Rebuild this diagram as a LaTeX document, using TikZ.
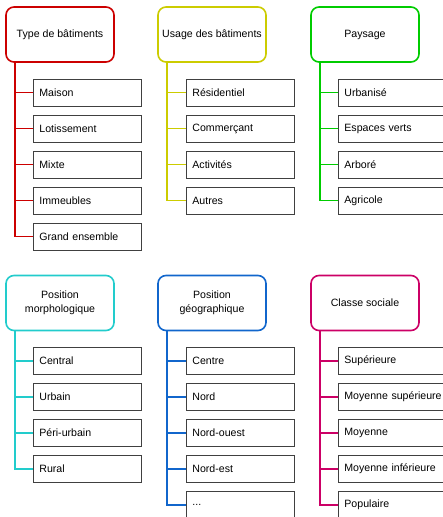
\documentclass[tikz,border=0pt]{standalone}
\usepackage{fontspec}
\setmainfont{Liberation Sans}
\usepackage{xcolor}
\usetikzlibrary{positioning}

\definecolor{rouge}{HTML}{CC0000}
\definecolor{jaune}{HTML}{CCCC00}
\definecolor{vert}{HTML}{00CC00}
\definecolor{cyan}{HTML}{22CCCC}
\definecolor{bleu}{HTML}{1166CC}
\definecolor{magenta}{HTML}{CC0066}

\begin{document}
\begin{tikzpicture}[x=1pt,y=-1pt,
	font=\fontsize{10.6}{13.5}\selectfont,
	header/.style={draw=#1, line width=1.6pt, rounded corners=8pt, fill=white,
		minimum width=108pt, minimum height=55pt, align=center, inner sep=2pt},
	item/.style={draw=black!75, line width=0.8pt, fill=white, anchor=west,
		minimum width=108pt, minimum height=27pt, text width=96pt, inner xsep=6pt},
	branch/.style={draw=#1, line width=1.6pt}]

	\useasboundingbox[fill=white] (0,0) rectangle (443,517);

	% Type de batiments
	\node[header=rouge] (type) at (60,34.5) {Type de bâtiments};
	\node[item] (maison) at (33,92.5) {Maison};
	\node[item] (lotis) at (33,128.5) {Lotissement};
	\node[item] (mixte) at (33,164.5) {Mixte};
	\node[item] (immeubles) at (33,200.5) {Immeubles};
	\node[item] (grand) at (33,236.5) {Grand ensemble};
	\draw[branch=rouge] ([xshift=9.5pt]type.south west) |- (maison.west);
	\draw[branch=rouge] ([xshift=9.5pt]type.south west) |- (lotis.west);
	\draw[branch=rouge] ([xshift=9.5pt]type.south west) |- (mixte.west);
	\draw[branch=rouge] ([xshift=9.5pt]type.south west) |- (immeubles.west);
	\draw[branch=rouge] ([xshift=9.5pt]type.south west) |- (grand.west);

	% Usage des batiments
	\node[header=jaune] (usage) at (212,34.5) {Usage des bâtiments};
	\node[item] (resid) at (186,92.5) {Résidentiel};
	\node[item] (commerce) at (186,128.5) {Commerçant};
	\node[item] (activ) at (186,164.5) {Activités};
	\node[item] (autres) at (186,200.5) {Autres};
	\draw[branch=jaune] ([xshift=9.5pt]usage.south west) |- (resid.west);
	\draw[branch=jaune] ([xshift=9.5pt]usage.south west) |- (commerce.west);
	\draw[branch=jaune] ([xshift=9.5pt]usage.south west) |- (activ.west);
	\draw[branch=jaune] ([xshift=9.5pt]usage.south west) |- (autres.west);

	% Paysage
	\node[header=vert] (paysage) at (365,34.5) {Paysage};
	\node[item] (urbanise) at (338,92.5) {Urbanisé};
	\node[item] (espaces) at (338,128.5) {Espaces verts};
	\node[item] (arbore) at (338,164.5) {Arboré};
	\node[item] (agricole) at (338,200.5) {Agricole};
	\draw[branch=vert] ([xshift=9.5pt]paysage.south west) |- (urbanise.west);
	\draw[branch=vert] ([xshift=9.5pt]paysage.south west) |- (espaces.west);
	\draw[branch=vert] ([xshift=9.5pt]paysage.south west) |- (arbore.west);
	\draw[branch=vert] ([xshift=9.5pt]paysage.south west) |- (agricole.west);

	% Position morphologique
	\node[header=cyan] (morpho) at (60,303) {Position\\morphologique};
	\node[item] (central) at (33,361) {Central};
	\node[item] (urbain) at (33,397) {Urbain};
	\node[item] (periurb) at (33,433) {Péri-urbain};
	\node[item] (rural) at (33,469) {Rural};
	\draw[branch=cyan] ([xshift=9.5pt]morpho.south west) |- (central.west);
	\draw[branch=cyan] ([xshift=9.5pt]morpho.south west) |- (urbain.west);
	\draw[branch=cyan] ([xshift=9.5pt]morpho.south west) |- (periurb.west);
	\draw[branch=cyan] ([xshift=9.5pt]morpho.south west) |- (rural.west);

	% Position geographique
	\node[header=bleu] (geo) at (212,303) {Position\\géographique};
	\node[item] (centre) at (186,361) {Centre};
	\node[item] (nord) at (186,397) {Nord};
	\node[item] (nordouest) at (186,433) {Nord-ouest};
	\node[item] (nordest) at (186,469) {Nord-est};
	\node[item] (etc) at (186,505) {...};
	\draw[branch=bleu] ([xshift=9.5pt]geo.south west) |- (centre.west);
	\draw[branch=bleu] ([xshift=9.5pt]geo.south west) |- (nord.west);
	\draw[branch=bleu] ([xshift=9.5pt]geo.south west) |- (nordouest.west);
	\draw[branch=bleu] ([xshift=9.5pt]geo.south west) |- (nordest.west);
	\draw[branch=bleu] ([xshift=9.5pt]geo.south west) |- (etc.west);

	% Classe sociale
	\node[header=magenta] (classe) at (365,303) {Classe sociale};
	\node[item] (sup) at (338,361) {Supérieure};
	\node[item] (moysup) at (338,397) {\mbox{Moyenne supérieure}};
	\node[item] (moy) at (338,433) {Moyenne};
	\node[item] (moyinf) at (338,469) {Moyenne inférieure};
	\node[item] (popu) at (338,505) {Populaire};
	\draw[branch=magenta] ([xshift=9.5pt]classe.south west) |- (sup.west);
	\draw[branch=magenta] ([xshift=9.5pt]classe.south west) |- (moysup.west);
	\draw[branch=magenta] ([xshift=9.5pt]classe.south west) |- (moy.west);
	\draw[branch=magenta] ([xshift=9.5pt]classe.south west) |- (moyinf.west);
	\draw[branch=magenta] ([xshift=9.5pt]classe.south west) |- (popu.west);
\end{tikzpicture}
\end{document}
